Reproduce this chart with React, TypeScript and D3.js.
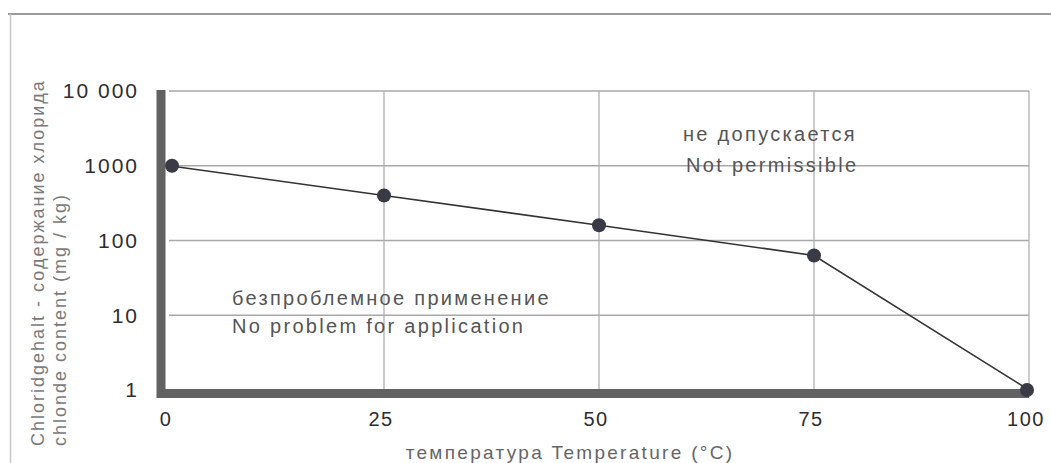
import React from 'react';
import * as d3 from 'd3';

// temperature (°C) vs chloride content (mg/kg)
const temperatures = [0, 25, 50, 75, 100];
const chloride = [1000, 400, 160, 63, 1];
const xTicks = [0, 25, 50, 75, 100];
const yTicks = [1, 10, 100, 1000, 10000];
const yTickLabels = ['1', '10', '100', '1000', '10 000'];

const W = 1051;
const H = 463;

export default function App() {
  const x = d3.scaleLinear().domain([0, 100]).range([169, 1029]);
  const y = d3.scaleLog().domain([1, 10000]).range([390, 91]);

  const line = d3.line<number>()
    .x((d, i) => x(temperatures[i]))
    .y(d => y(d));

  const font = 'Arial, "Liberation Sans", sans-serif';

  return (
    <svg width={W} height={H} style={{ position: 'fixed', left: 0, top: 0, background: '#fff' }}
      fontFamily={font}>
      {/* outer frame */}
      <line x1={8} x2={W} y1={14} y2={14} stroke="#9a9a9a" strokeWidth={2} />
      <line x1={10.5} x2={10.5} y1={14} y2={H} stroke="#c8c8c8" strokeWidth={1.5} />

      {/* grid */}
      {yTicks.filter(t => t > 1).map(t => (
        <line key={'h' + t} x1={x(0)} x2={x(100)} y1={y(t)} y2={y(t)} stroke="#a8a8a8" strokeWidth={1.3} />
      ))}
      {xTicks.filter(t => t > 0).map(t => (
        <line key={'v' + t} x1={x(t)} x2={x(t)} y1={y(10000)} y2={y(1)} stroke="#b0b0b0" strokeWidth={1.3} />
      ))}

      {/* thick axes */}
      <line x1={161} x2={161} y1={y(10000) - 1} y2={398} stroke="#626262" strokeWidth={9} />
      <line x1={157} x2={x(100)} y1={393.5} y2={393.5} stroke="#626262" strokeWidth={9} />

      {/* y tick labels */}
      {yTicks.map((t, i) => (
        <text key={'yl' + t} x={139} y={y(t)} dy="0.35em" textAnchor="end" fontSize={21} fill="#2e2e2e" letterSpacing={2}>
          {yTickLabels[i]}
        </text>
      ))}

      {/* x tick labels */}
      {xTicks.map(t => (
        <text key={'xl' + t} x={x(t) - 3} y={419} dy="0.35em" textAnchor="middle" fontSize={20} fill="#2e2e2e" letterSpacing={1.5}>
          {t}
        </text>
      ))}

      {/* axis titles */}
      <text x={570} y={459} textAnchor="middle" fontSize={19} fill="#666" letterSpacing={2.3}>температура Temperature (°C)</text>
      <g transform="translate(44,446) rotate(-90)">
        <text x={0} y={0} fontSize={18} fill="#7a7a7a" letterSpacing={2}>Chloridgehalt - содержание хлорида</text>
        <text x={0} y={22} fontSize={18} fill="#7a7a7a" letterSpacing={2}>chlonde content (mg / kg)</text>
      </g>

      {/* annotations */}
      <text x={683} y={141} fontSize={20} fill="#555" letterSpacing={2.3}>не допускается</text>
      <text x={686} y={172} fontSize={20} fill="#555" letterSpacing={2.3}>Not permissible</text>
      <text x={232} y={305} fontSize={20} fill="#555" letterSpacing={2.3}>безпроблемное применение</text>
      <text x={232} y={333} fontSize={20} fill="#555" letterSpacing={2.3}>No problem for application</text>

      {/* series */}
      <path d={line(chloride) || ''} fill="none" stroke="#333" strokeWidth={1.6} />
      {chloride.map((v, i) => (
        <circle key={'p' + i} cx={x(temperatures[i]) + (i === 0 ? 3 : i === 4 ? -2 : 0)} cy={y(v)} r={7} fill="#383b45" />
      ))}
    </svg>
  );
}
